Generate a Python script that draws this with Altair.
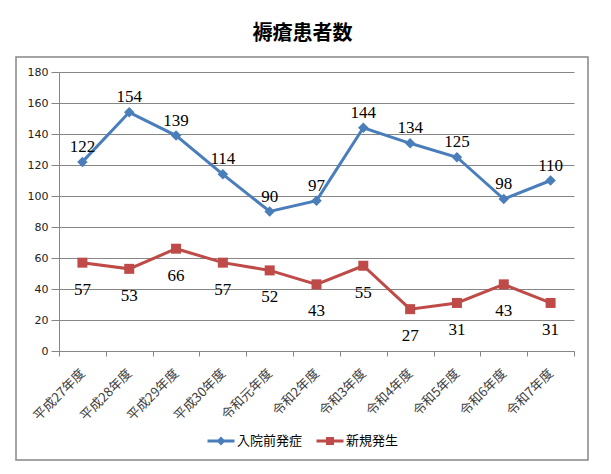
import altair as alt
import pandas as pd

years = ["平成27年度", "平成28年度", "平成29年度", "平成30年度", "令和元年度", "令和2年度",
         "令和3年度", "令和4年度", "令和5年度", "令和6年度", "令和7年度"]
series_names = ["入院前発症", "新規発生"]
before_admission = [122, 154, 139, 114, 90, 97, 144, 134, 125, 98, 110]
new_cases = [57, 53, 66, 57, 52, 43, 55, 27, 31, 43, 31]

colors = ["#4A7EBB", "#BE4B48"]
markers = ["diamond", "square"]
marker_sizes = [110, 100]
label_dy = [-15, 27]
# legend symbols: a short line with the marker on top
legend_shapes = [
    "M-1.35,-0.15H1.35V0.15H-1.35Z M0,-0.45L0.45,0L0,0.45L-0.45,0Z",
    "M-1.35,-0.15H1.35V0.15H-1.35Z M-0.4,-0.4H0.4V0.4H-0.4Z",
]

df = pd.DataFrame({
    "year": years * 2,
    "series": [series_names[0]] * len(years) + [series_names[1]] * len(years),
    "value": before_admission + new_cases,
})

x_enc = alt.X("year:N", sort=years, title=None,
              scale=alt.Scale(type="band", paddingInner=0, paddingOuter=0),
              axis=alt.Axis(labelAngle=-45, labelAlign="right", labelBaseline="middle",
                            tickBand="extent", tickSize=5, labelPadding=15,
                            labelFont="Noto Sans CJK JP", labelFontSize=13, labelColor="#404040",
                            domainColor="#868686", tickColor="#868686", grid=False))
y_enc = alt.Y("value:Q", title=None,
              scale=alt.Scale(domain=[0, 180], nice=False),
              axis=alt.Axis(values=list(range(0, 181, 20)), grid=True, gridColor="#868686",
                            tickSize=8, labelPadding=3, tickColor="#868686",
                            domainColor="#868686", labelFont="DejaVu Sans", labelFontSize=11,
                            labelColor="#222222"))

base = alt.Chart(df).encode(x=x_enc, y=y_enc)

frame = alt.Chart(alt.Data(values=[{}])).mark_rect(
    fill="transparent", stroke="#868686", strokeWidth=1.5
).encode(x=alt.value(-43), x2=alt.value(529), y=alt.value(-15), y2=alt.value(388))

layers = [frame]
for name, col, mk, sz in zip(series_names, colors, markers, marker_sizes):
    part = base.transform_filter(alt.datum.series == name)
    layers.append(part.mark_line(strokeWidth=3, color=col))
    layers.append(part.mark_point(filled=True, opacity=1, shape=mk, size=sz, color=col))

for name, dy in zip(series_names, label_dy):
    layers.append(base.transform_filter(alt.datum.series == name).mark_text(
        dy=dy, font="Liberation Serif", fontSize=17, color="#000000"
    ).encode(text="value:Q"))

legend_def = alt.Legend(orient="none", legendX=151, legendY=358, direction="horizontal",
                        title=None, labelFont="Noto Sans CJK JP", labelFontSize=13,
                        labelColor="#000000", symbolSize=400, labelOffset=5, columnPadding=13)

legend_layer = base.transform_filter(alt.datum.value < 0).mark_point(
    filled=True, opacity=1, strokeWidth=0
).encode(
    color=alt.Color("series:N", scale=alt.Scale(domain=series_names, range=colors),
                    legend=legend_def),
    shape=alt.Shape("series:N", scale=alt.Scale(domain=series_names, range=legend_shapes),
                    legend=legend_def),
)
layers.append(legend_layer)

chart = alt.layer(*layers).properties(
    width=515, height=279,
    title=alt.Title("褥瘡患者数", font="Noto Sans CJK JP", fontSize=20, fontWeight="bold",
                    color="#000000", anchor="middle", offset=12, dx=-14),
    autosize=alt.AutoSizeParams(type="none"),
    padding={"left": 51, "top": 64, "right": 29, "bottom": 115},
    background="white",
).configure_view(strokeWidth=0)

chart.save("out.html", embed_options={"renderer": "svg", "actions": False})
